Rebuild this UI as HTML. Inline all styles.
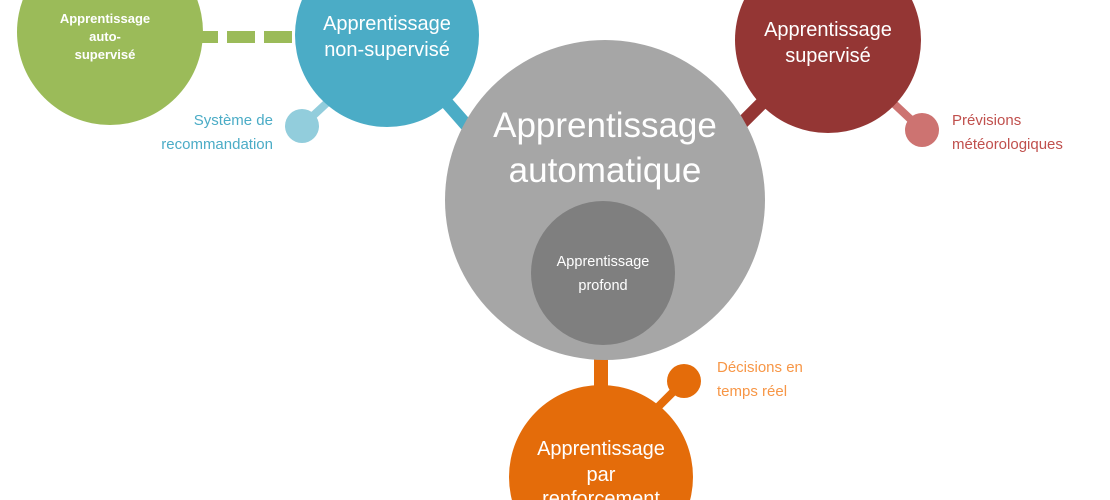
<!DOCTYPE html>
<html><head><meta charset="utf-8"><style>
html,body{margin:0;padding:0;background:#fff;width:1110px;height:500px;overflow:hidden}
svg{display:block}
text{font-family:"Liberation Sans",sans-serif}
</style></head><body>
<svg width="1110" height="500" viewBox="0 0 1110 500">
<line x1="190" y1="37" x2="298" y2="37" stroke="#9bbb59" stroke-width="12" stroke-dasharray="28,9"/>
<line x1="440" y1="95" x2="475" y2="135" stroke="#4bacc6" stroke-width="13"/>
<line x1="330" y1="100" x2="302" y2="126" stroke="#92cddc" stroke-width="8"/>
<line x1="735" y1="130" x2="775" y2="90" stroke="#943634" stroke-width="13"/>
<line x1="890" y1="100" x2="922" y2="130" stroke="#cd7371" stroke-width="8"/>
<line x1="601" y1="355" x2="601" y2="390" stroke="#e46c0a" stroke-width="14"/>
<line x1="684" y1="381" x2="655" y2="410" stroke="#e46c0a" stroke-width="8"/>
<circle cx="110" cy="32" r="93" fill="#9bbb59"/>
<circle cx="387" cy="35" r="92" fill="#4bacc6"/>
<circle cx="302" cy="126" r="17" fill="#92cddc"/>
<circle cx="828" cy="40" r="93" fill="#943634"/>
<circle cx="922" cy="130" r="17" fill="#cd7371"/>
<circle cx="605" cy="200" r="160" fill="#a6a6a6"/>
<circle cx="603" cy="273" r="72" fill="#7f7f7f"/>
<circle cx="601" cy="477" r="92" fill="#e46c0a"/>
<circle cx="684" cy="381" r="17" fill="#e46c0a"/>
<g fill="#fff" text-anchor="middle">
<text x="105" y="23" font-size="13" font-weight="bold">Apprentissage</text>
<text x="105" y="41" font-size="13" font-weight="bold">auto-</text>
<text x="105" y="59" font-size="13" font-weight="bold">supervisé</text>
<text x="387" y="30" font-size="20">Apprentissage</text>
<text x="387" y="56" font-size="20">non-supervisé</text>
<text x="828" y="36" font-size="20">Apprentissage</text>
<text x="828" y="62" font-size="20">supervisé</text>
<text x="605" y="137" font-size="35">Apprentissage</text>
<text x="605" y="182" font-size="35">automatique</text>
<text x="603" y="266" font-size="14.5">Apprentissage</text>
<text x="603" y="290" font-size="14.5">profond</text>
<text x="601" y="455" font-size="20">Apprentissage</text>
<text x="601" y="481" font-size="20">par</text>
<text x="601" y="505" font-size="20">renforcement</text>
</g>
<g font-size="15">
<text x="273" y="125" fill="#4bacc6" text-anchor="end">Système de</text>
<text x="273" y="149" fill="#4bacc6" text-anchor="end">recommandation</text>
<text x="952" y="125" fill="#c0504d">Prévisions</text>
<text x="952" y="149" fill="#c0504d">météorologiques</text>
<text x="717" y="372" fill="#f79646">Décisions en</text>
<text x="717" y="396" fill="#f79646">temps réel</text>
</g>
</svg>
</body></html>
